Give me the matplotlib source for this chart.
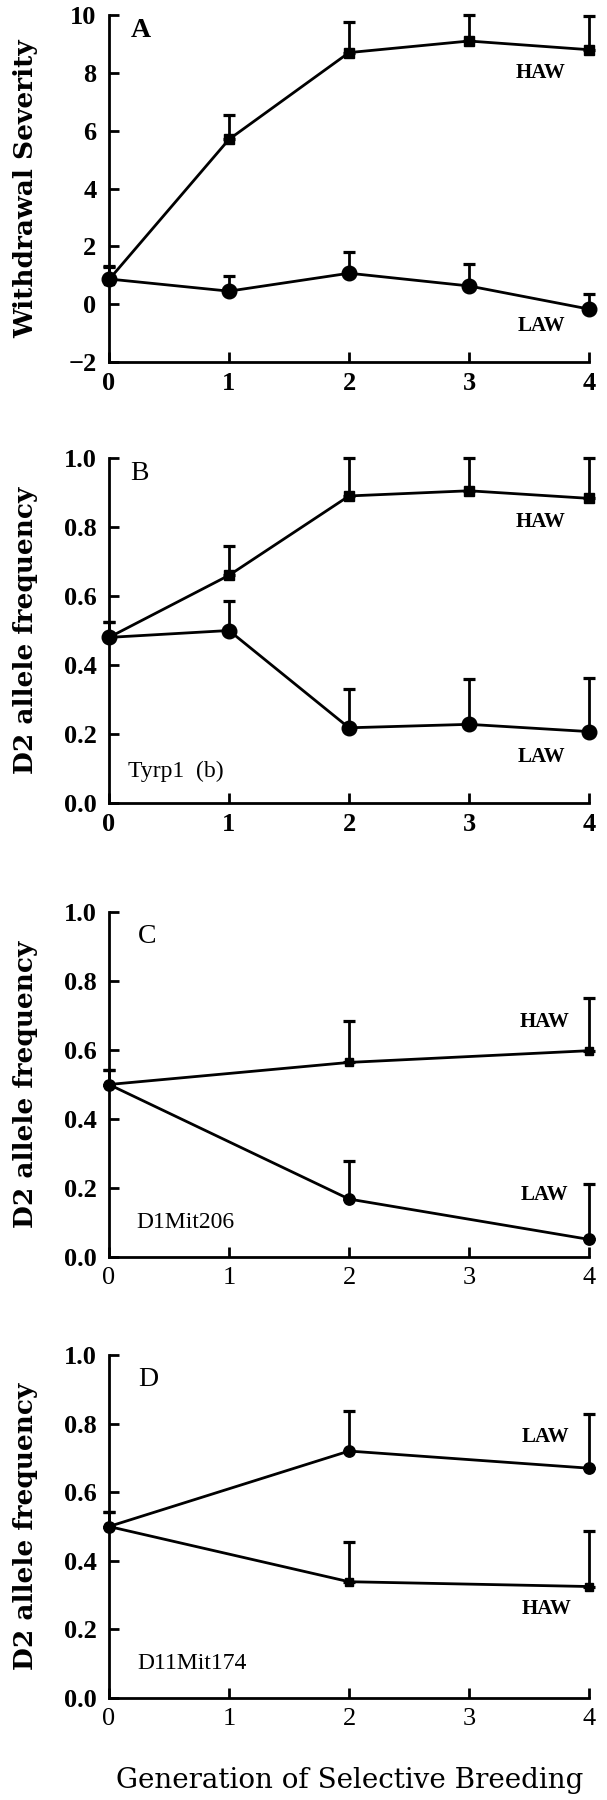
import numpy as np
import matplotlib.pyplot as plt

plt.rcParams['font.family'] = ['Liberation Serif', 'DejaVu Serif']

# generations
gen = [0, 1, 2, 3, 4]
gen_cd = [0, 2, 4]

# A - withdrawal severity (upper error only)
a_haw = [0.85, 5.7, 8.7, 9.1, 8.8]
a_haw_err = [0.45, 0.85, 1.05, 0.9, 1.15]
a_law = [0.87, 0.45, 1.07, 0.63, -0.17]
a_law_err = [0.45, 0.53, 0.73, 0.75, 0.52]

# B - Tyrp1 (b)
b_haw = [0.48, 0.66, 0.89, 0.905, 0.883]
b_haw_err = [0.045, 0.085, 0.11, 0.095, 0.117]
b_law = [0.48, 0.50, 0.218, 0.228, 0.207]
b_law_err = [0.045, 0.085, 0.112, 0.132, 0.155]

# C - D1Mit206
c_haw = [0.5, 0.564, 0.598]
c_haw_err = [0.043, 0.119, 0.154]
c_law = [0.5, 0.168, 0.051]
c_law_err = [0.043, 0.109, 0.161]

# D - D11Mit174
d_law = [0.5, 0.72, 0.67]
d_law_err = [0.042, 0.118, 0.159]
d_haw = [0.5, 0.339, 0.325]
d_haw_err = [0.042, 0.117, 0.162]

W, H = 607, 1800
fig = plt.figure(figsize=(W / 100, H / 100), dpi=100)

# wider serif for the letter-spaced axis titles of the original
wide = ['DejaVu Serif']


def make_ax(top_px, bot_px):
    left, right = 109, 589
    return fig.add_axes([left / W, 1 - bot_px / H, (right - left) / W, (bot_px - top_px) / H])


def series(ax, x, y, err, marker, ms):
    n = len(x)
    res = ax.errorbar(x, y, yerr=[np.zeros(n), err], color='black', lw=2.0,
                      marker=marker, ms=ms, elinewidth=2.0, capsize=4.2,
                      capthick=2.3, zorder=3)
    for a in res.get_children():
        a.set_clip_on(False)


def style(ax, ylim, yticks, ylabel, fmt, xbold):
    for s in ['top', 'right']:
        ax.spines[s].set_visible(False)
    for s in ['left', 'bottom']:
        ax.spines[s].set_linewidth(2.0)
    ax.set_xlim(0, 4)
    ax.set_ylim(*ylim)
    ax.set_xticks(gen)
    ax.set_xticklabels([str(g) for g in gen], fontweight='bold' if xbold else 'normal')
    ax.set_yticks(yticks)
    ax.set_yticklabels([fmt.format(v).replace('-', '\u2212') for v in yticks],
                       fontweight='bold')
    ax.tick_params(direction='in', length=7, width=2.0, labelsize=19)
    ax.tick_params(axis='x', pad=7)
    ax.tick_params(axis='y', pad=9)
    ax.set_ylabel(ylabel, fontsize=19, fontweight='bold', family=wide)
    ax.yaxis.set_label_coords(-0.148, 0.5)


frac_ticks = [0.0, 0.2, 0.4, 0.6, 0.8, 1.0]

# panel A
ax = make_ax(15, 362)
series(ax, gen, a_haw, a_haw_err, 's', 7.8)
series(ax, gen, a_law, a_law_err, 'o', 10.5)
style(ax, (-2, 10), [-2, 0, 2, 4, 6, 8, 10], 'Withdrawal Severity', '{:d}', True)
ax.text(0.045, 0.955, 'A', transform=ax.transAxes, fontsize=20, fontweight='bold', va='center')
ax.text(3.6, 8.0, 'HAW', fontsize=15, fontweight='bold', ha='center', va='center')
ax.text(3.6, -0.76, 'LAW', fontsize=15, fontweight='bold', ha='center', va='center')

# panel B
ax = make_ax(458, 803)
series(ax, gen, b_haw, b_haw_err, 's', 7.8)
series(ax, gen, b_law, b_law_err, 'o', 10.5)
style(ax, (0, 1), frac_ticks, 'D2 allele frequency', '{:.1f}', True)
ax.text(0.045, 0.955, 'B', transform=ax.transAxes, fontsize=20, va='center')
ax.text(3.6, 0.815, 'HAW', fontsize=15, fontweight='bold', ha='center', va='center')
ax.text(3.6, 0.133, 'LAW', fontsize=15, fontweight='bold', ha='center', va='center')
ax.text(0.16, 0.093, 'Tyrp1  (b)', fontsize=17, va='center')

# panel C
ax = make_ax(912, 1257)
series(ax, gen_cd, c_haw, c_haw_err, 's', 5.8)
series(ax, gen_cd, c_law, c_law_err, 'o', 8.2)
style(ax, (0, 1), frac_ticks, 'D2 allele frequency', '{:.1f}', False)
ax.text(0.06, 0.93, 'C', transform=ax.transAxes, fontsize=20, va='center')
ax.text(3.63, 0.68, 'HAW', fontsize=15, fontweight='bold', ha='center', va='center')
ax.text(3.63, 0.18, 'LAW', fontsize=15, fontweight='bold', ha='center', va='center')
ax.text(0.23, 0.1, 'D1Mit206', fontsize=17, va='center')

# panel D
ax = make_ax(1355, 1698)
series(ax, gen_cd, d_law, d_law_err, 'o', 8.2)
series(ax, gen_cd, d_haw, d_haw_err, 's', 5.8)
style(ax, (0, 1), frac_ticks, 'D2 allele frequency', '{:.1f}', False)
ax.text(0.06, 0.93, 'D', transform=ax.transAxes, fontsize=20, va='center')
ax.text(3.64, 0.76, 'LAW', fontsize=15, fontweight='bold', ha='center', va='center')
ax.text(3.65, 0.26, 'HAW', fontsize=15, fontweight='bold', ha='center', va='center')
ax.text(0.24, 0.1, 'D11Mit174', fontsize=17, va='center')

fig.text(350 / W, 1 - 1781 / H, 'Generation of Selective Breeding', fontsize=20,
         family=wide, ha='center', va='center')

fig.savefig('out.png', dpi=100)
